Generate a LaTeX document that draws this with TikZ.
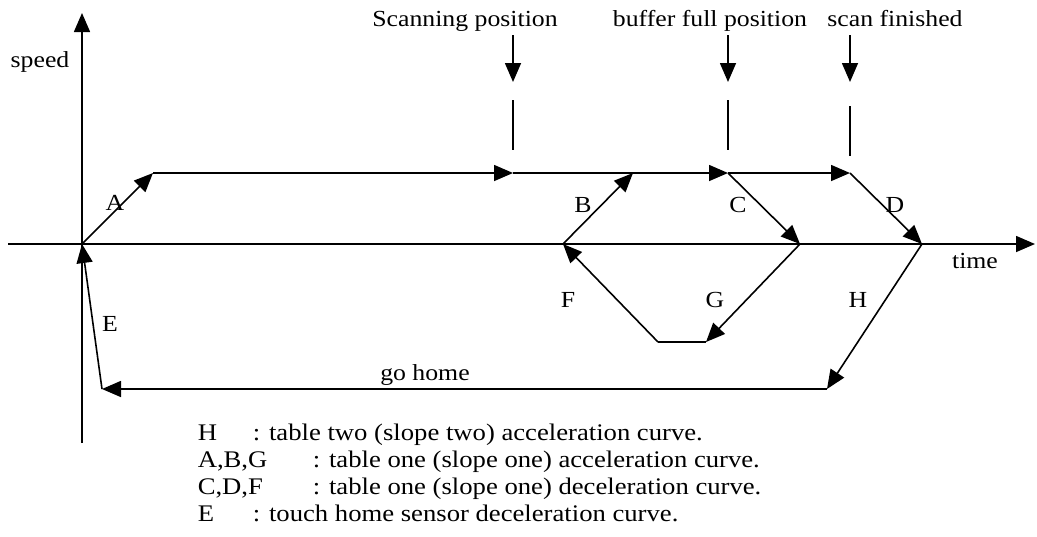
\documentclass[tikz,border=0pt]{standalone}
\usepackage{fontspec}
\setmainfont[FakeStretch=1.12]{Liberation Serif}
\usepackage{tikz}
\usetikzlibrary{arrows.meta,positioning}

\begin{document}
\begin{tikzpicture}[x=1pt,y=-1pt,line width=1.6pt,
  every node/.style={inner sep=0pt,font=\fontsize{23}{25}\selectfont},
  legend/.style={anchor=base west,font=\fontsize{23.8}{26}\selectfont},
  tip/.style={-{Triangle[length=19pt,width=16pt]}}]
\useasboundingbox (0,0) rectangle (1037,536);
% axes
\draw [tip] (8,244) -- (1035,244);
\draw [tip] (82,443) -- (82,13);
\node (speed) [anchor=base] at (40,67) {speed};
\node (time) [anchor=base] at (975,268) {time};
% points of the speed curve
\coordinate (org) at (82,244);
\coordinate (acctop) at (153,173);
\coordinate (scan) at (513,173);
\coordinate (buf) at (728,173);
\coordinate (fin) at (850,173);
\coordinate (bstart) at (563,244);
\coordinate (bend) at (633,173);
\coordinate (cend) at (800,244);
\coordinate (dend) at (922,244);
\coordinate (gend) at (706,342);
\coordinate (fstart) at (658,342);
\coordinate (hend) at (827,389);
\coordinate (home) at (102,389);
% curve
\draw [tip] (org) -- (acctop);
\draw [tip] (acctop) -- (scan);
\draw [tip] (scan) -- (buf);
\draw [tip] (buf) -- (fin);
\draw [tip] (bstart) -- (bend);
\draw [tip] (buf) -- (cend);
\draw [tip] (fin) -- (dend);
\draw [tip] (cend) -- (gend);
\draw (gend) -- (fstart);
\draw [tip] (fstart) -- (bstart);
\draw [tip] (dend) -- (hend);
\draw [tip] (hend) -- (home);
\draw [tip] (home) -- (org);
% curve labels
\node (la) at (115,203) {A};
\node (lb) at (583,205) {B};
\node (lc) at (738,205) {C};
\node (ld) at (895,205) {D};
\node (le) at (110,324) {E};
\node (lf) at (568,300) {F};
\node (lg) at (715,300) {G};
\node (lh) at (858,300) {H};
\node (gohome) [anchor=base] at (425,380) {go home};
% positions
\node (pscan) [anchor=base] at (465,26) {Scanning position};
\node (pbuf) [anchor=base] at (710,26) {buffer full position};
\node (pfin) [anchor=base] at (895,26) {scan finished};
\foreach \x/\y in {513/150, 728/150, 850/156} {
  \draw [tip] (\x,35) -- (\x,82);
  \draw (\x,\y-50) -- (\x,\y);
}
% legend
\foreach \k/\c/\t [count=\i] in {H/252/{table two (slope two) acceleration curve.},
  {A,B,G}/312/{table one (slope one) acceleration curve.},
  {C,D,F}/312/{table one (slope one) deceleration curve.},
  E/252/{touch home sensor deceleration curve.}} {
  \node (key\i) [legend] at (197,412.7+27.3*\i) {\k};
  \node (txt\i) [legend] at (\c,412.7+27.3*\i) {: \t};
}
\end{tikzpicture}
\end{document}
